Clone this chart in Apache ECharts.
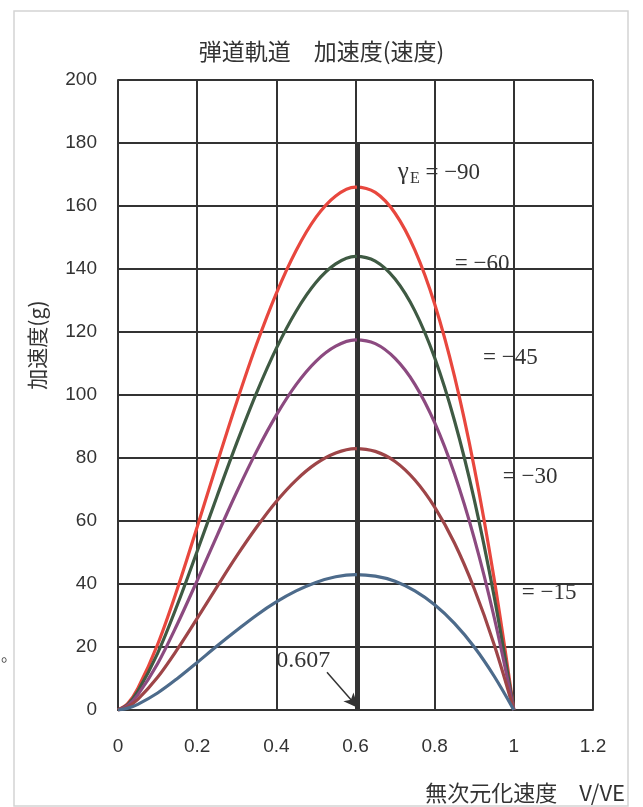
<!DOCTYPE html>
<html>
<head>
<meta charset="utf-8">
<script src="https://cdn.jsdelivr.net/npm/echarts@6/dist/echarts.min.js"></script>
<style>html,body{margin:0;padding:0;background:#fff;}#c{width:643px;height:807px;}</style>
</head>
<body>
<div id="c"></div>
<script>
// V/VE sample positions
const velocity = [0,0.025,0.05,0.1,0.15,0.2,0.25,0.3,0.35,0.4,0.45,0.5,0.55,0.6,0.65,0.7,0.75,0.8,0.85,0.9,0.95,1.0];
// acceleration (g) for each entry angle
const accel90 = [0,2.1,6.8,20.8,38.5,58.1,78.2,97.8,116.1,132.3,145.9,156.4,163.2,166.0,164.3,157.7,146.0,128.9,106.0,77.0,41.8,0];
const accel60 = [0,1.8,5.9,18.0,33.4,50.4,67.8,84.8,100.7,114.8,126.6,135.7,141.6,144.0,142.5,136.8,126.7,111.8,91.9,66.8,36.2,0];
const accel45 = [0,1.5,4.8,14.7,27.3,41.1,55.3,69.2,82.1,93.6,103.3,110.7,115.5,117.5,116.3,111.6,103.4,91.2,75.0,54.5,29.6,0];
const accel30 = [0,1.1,3.4,10.4,19.3,29.1,39.1,48.9,58.0,66.2,73.0,78.2,81.6,83.0,82.1,78.9,73.0,64.4,53.0,38.5,20.9,0];
const accel15 = [0,0.6,1.8,5.4,10.0,15.1,20.3,25.3,30.1,34.3,37.8,40.5,42.3,43.0,42.5,40.9,37.8,33.4,27.5,20.0,10.8,0];
const curveNames = ['-90','-60','-45','-30','-15'];
const curveLabels = ['= \u221290','= \u221260','= \u221245','= \u221230','= \u221215'];
const labelAnchors = [[0.707,170.5],[0.851,141.6],[0.922,111.7],[0.972,74],[1.02,37.1]];
const peakVelocity = 0.607;
const xTicks = ['0','0.2','0.4','0.6','0.8','1','1.2'];

const colors = ['#e8473e','#3f5a43','#8c4a80','#9e4548','#4d6b8b'];
const allData = [accel90, accel60, accel45, accel30, accel15];
const serif = '"Liberation Serif","DejaVu Serif",serif';
const sans = '"Liberation Sans",Arial,sans-serif';
const cjk = '"Noto Sans CJK JP",sans-serif';

const series = allData.map((arr, i) => ({
  name: curveNames[i],
  type: 'line',
  smooth: 0.35,
  showSymbol: false,
  data: velocity.map((v, k) => [v, arr[k]]),
  lineStyle: { color: colors[i], width: 3.2 },
  itemStyle: { color: colors[i] },
  z: 3,
  markPoint: {
    silent: true,
    symbol: 'circle',
    symbolSize: 0,
    itemStyle: { color: 'transparent' },
    data: [{
      coord: labelAnchors[i],
      label: {
        show: true,
        position: 'right',
        distance: 0,
        fontFamily: serif,
        fontSize: 23,
        color: '#333',
        formatter: i === 0 ? '{g|\u03b3}{e|E}{t| = \u221290}' : curveLabels[i],
        rich: {
          g: { fontFamily: serif, fontSize: 25, color: '#333' },
          e: { fontFamily: serif, fontSize: 16, color: '#333', padding: [12, 0, 0, 1] },
          t: { fontFamily: serif, fontSize: 23, color: '#333' }
        }
      }
    }]
  }
}));

// annotation series: vertical line at 0.607, arrow and its label
series.push({
  type: 'line',
  data: [],
  z: 4,
  markLine: {
    silent: true,
    animation: false,
    label: { show: false },
    data: [
      [{ coord: [peakVelocity, 0], symbol: 'none' }, { coord: [peakVelocity, 180], symbol: 'none', lineStyle: { color: '#333', width: 3, type: 'solid' } }],
      [{ coord: [0.528, 12], symbol: 'none' }, { coord: [peakVelocity, 0.6], symbol: 'arrow', symbolSize: [10, 15], lineStyle: { color: '#333', width: 1.5, type: 'solid' } }]
    ]
  },
  markPoint: {
    silent: true,
    symbolSize: 0,
    itemStyle: { color: 'transparent' },
    data: [{
      coord: [0.40, 15.6],
      label: { show: true, position: 'right', distance: 0, formatter: String(peakVelocity), fontFamily: serif, fontSize: 24, color: '#333' }
    }]
  }
});

const chart = echarts.init(document.getElementById('c'), null, { renderer: 'canvas' });
chart.setOption({
  animation: false,
  backgroundColor: '#ffffff',
  title: {
    text: '弾道軌道\u3000加速度(速度)',
    left: 'center',
    top: 35,
    textStyle: { fontFamily: cjk, fontSize: 23, fontWeight: 'normal', color: '#333' }
  },
  grid: { left: 118, right: 50, top: 80, bottom: 97 },
  xAxis: {
    type: 'value',
    min: 0, max: 1.2, interval: 0.2,
    axisLine: { show: true, lineStyle: { color: '#333', width: 2 } },
    axisTick: { show: false },
    splitLine: { show: true, lineStyle: { color: '#333', width: 2 } },
    axisLabel: {
      margin: 27, fontSize: 19, color: '#333', fontFamily: sans,
      formatter: v => xTicks[Math.round(v / 0.2)]
    }
  },
  yAxis: {
    type: 'value',
    min: 0, max: 200, interval: 20,
    axisLine: { show: true, lineStyle: { color: '#333', width: 2 } },
    axisTick: { show: false },
    splitLine: { show: true, lineStyle: { color: '#333', width: 2 } },
    axisLabel: { margin: 21, fontSize: 19, color: '#333', fontFamily: sans }
  },
  graphic: [
    { type: 'rect', shape: { x: 14, y: 11, width: 614, height: 795 }, style: { fill: 'none', stroke: '#d4d4d4', lineWidth: 1.5 }, z: -1 },
    { type: 'text', x: 625, y: 793, style: { text: '無次元化速度\u3000V/VE', fontFamily: cjk, fontSize: 22, fill: '#333', align: 'right', verticalAlign: 'middle' } },
    { type: 'text', x: 37, y: 345, rotation: Math.PI / 2, style: { text: '加速度(g)', fontFamily: cjk, fontSize: 21, fill: '#333', align: 'center', verticalAlign: 'middle' } },
    { type: 'text', x: 9, y: 655, style: { text: '。', fontFamily: cjk, fontSize: 16, fill: '#444', align: 'center', verticalAlign: 'middle' } }
  ],
  series: series
});
</script>
</body>
</html>
